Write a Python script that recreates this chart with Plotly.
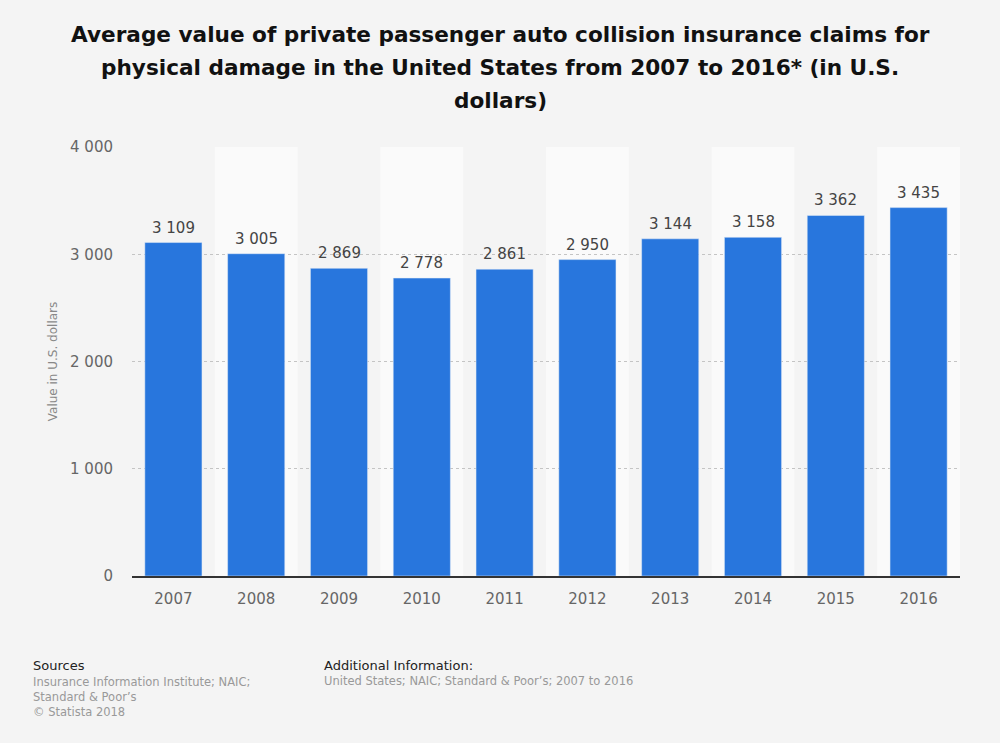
import plotly.graph_objects as go

years = ["2007", "2008", "2009", "2010", "2011", "2012", "2013", "2014", "2015", "2016"]
values = [3109, 3005, 2869, 2778, 2861, 2950, 3144, 3158, 3362, 3435]
y_ticks = [0, 1000, 2000, 3000, 4000]
title_lines = [
    "Average value of private passenger auto collision insurance claims for",
    "physical damage in the United States from 2007 to 2016* (in U.S.",
    "dollars)",
]

L, R, T, B = 132, 40, 147, 167
W, H = 1000, 743


def px_x(x):
    return (x - L) / (W - L - R)


def px_y(y):
    return 1 - (y - T) / (H - T - B)


fig = go.Figure()
fig.add_trace(go.Bar(
    x=years, y=values, marker_color="#2876dd", width=0.69,
    hoverinfo="skip",
))
for i, v in enumerate(values):
    fig.add_annotation(
        x=i, y=v, text=f"{v:,}".replace(",", " "), showarrow=False,
        yanchor="bottom", yshift=4,
        font=dict(family="DejaVu Sans", size=15, color="#444"),
    )

for k, line in enumerate(title_lines):
    fig.add_annotation(
        text=f"<b>{line}</b>", xref="paper", yref="paper",
        x=px_x(500), y=px_y(35 + 32.5 * k), xanchor="center", yanchor="middle",
        showarrow=False, font=dict(family="DejaVu Sans", size=21.6, color="#111"),
    )

shapes = []
for i, _ in enumerate(years):
    if i % 2 == 1:
        shapes.append(dict(type="rect", xref="x", yref="paper", x0=i - 0.5, x1=i + 0.5,
                           y0=0, y1=1, fillcolor="#fafafa", line_width=0, layer="below"))

fig.update_layout(
    width=W, height=H,
    paper_bgcolor="#f4f4f4", plot_bgcolor="#f4f4f4",
    separators=". ",
    margin=dict(l=L, r=R, t=T, b=B),
    showlegend=False,
    shapes=shapes,
    font=dict(family="DejaVu Sans"),
)
fig.update_xaxes(
    type="category", showgrid=False, showline=True, linecolor="#333", linewidth=1.5,
    ticks="", tickfont=dict(size=15, color="#666"), range=[-0.5, len(years) - 0.5],
    ticklabelstandoff=8,
)
fig.update_yaxes(
    range=[0, 4000], tickvals=y_ticks, tickformat=",",
    showgrid=True, gridcolor="#c4c4c4", griddash="dot", gridwidth=1,
    zeroline=False, showline=False, ticks="", ticklabelstandoff=18,
    tickfont=dict(size=15, color="#666"),
    title=dict(text="Value in U.S. dollars", font=dict(size=12, color="#888"), standoff=9),
)

ann = [
    dict(text="Sources", x=31, y=665, size=13, color="#222", top=False),
    dict(text="Insurance Information Institute; NAIC;<br>Standard &amp; Poor’s<br>© Statista 2018", x=31, y=673, size=11.5, color="#999", top=True),
    dict(text="Additional Information:", x=322, y=665, size=13, color="#222", top=False),
    dict(text="United States; NAIC; Standard &amp; Poor’s; 2007 to 2016", x=322, y=681, size=11.5, color="#999", top=False),
]
for a in ann:
    fig.add_annotation(
        text=a["text"], xref="paper", yref="paper",
        x=px_x(a["x"]), y=px_y(a["y"]),
        xanchor="left", yanchor="top" if a["top"] else "middle",
        showarrow=False, align="left",
        font=dict(family="DejaVu Sans", size=a["size"], color=a["color"]),
    )

fig.write_html(
    "out.html",
    config={"displayModeBar": False},
    post_script="document.body.style.margin='0';document.body.style.background='#f4f4f4';",
)
